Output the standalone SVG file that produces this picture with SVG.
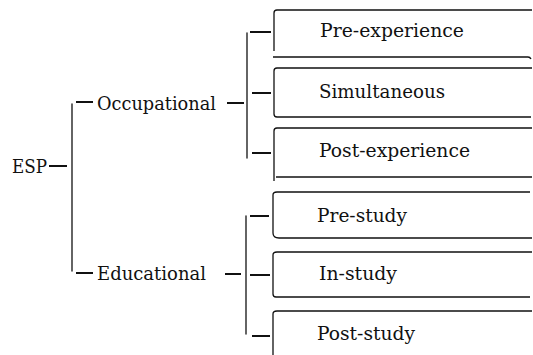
<svg xmlns="http://www.w3.org/2000/svg" width="533" height="355" viewBox="0 0 533 355">
<style>
  text { font-family: "DejaVu Serif", "Liberation Serif", serif; font-size: 18.5px; fill: #111; }
  .ln { stroke: #111; stroke-width: 1.3; fill: none; stroke-linecap: round; }
  .ds { stroke: #111; stroke-width: 2; fill: none; }
  .bx { stroke: #111; stroke-width: 1.3; fill: none; }
</style>
<rect width="533" height="355" fill="#fff"/>
<g id="connectors">
  <line class="ds" x1="49" y1="166" x2="67" y2="166"/>
  <path class="ln" d="M72,104 V271"/>
  <line class="ds" x1="76" y1="102" x2="93" y2="102"/>
  <line class="ds" x1="76" y1="273" x2="93" y2="273"/>
  <line class="ds" x1="227" y1="103" x2="244" y2="103"/>
  <path class="ln" d="M247,33 V158"/>
  <line class="ds" x1="250" y1="32" x2="271" y2="32" stroke-width="2.5"/>
  <line class="ds" x1="252" y1="93" x2="271" y2="93"/>
  <line class="ds" x1="252" y1="153" x2="271" y2="153"/>
  <line class="ds" x1="225" y1="274" x2="241" y2="274"/>
  <path class="ln" d="M246,216 V334"/>
  <line class="ds" x1="250" y1="216" x2="269" y2="216"/>
  <line class="ds" x1="250" y1="275" x2="270" y2="275"/>
  <line class="ds" x1="252" y1="336" x2="270" y2="336" stroke-width="2.5"/>
</g>
<g id="esp"><text x="12" y="173" font-size="20" textLength="35" lengthAdjust="spacingAndGlyphs">ESP</text></g>
<g id="occupational"><text x="97" y="110" textLength="119" lengthAdjust="spacingAndGlyphs">Occupational</text></g>
<g id="educational"><text x="97" y="280" textLength="109" lengthAdjust="spacingAndGlyphs">Educational</text></g>
<g id="pre-experience">
  <path class="bx" d="M532,10 H277 Q274,10 274,13 V51"/>
  <path class="bx" d="M273,57 H528 Q530,57 531,59"/>
  <text x="320" y="37" textLength="144" lengthAdjust="spacingAndGlyphs">Pre-experience</text>
</g>
<g id="simultaneous">
  <path class="bx" d="M532,68 H277 Q274,68 274,71 V114 Q274,117 277,117 H531"/>
  <text x="319" y="98" textLength="126" lengthAdjust="spacingAndGlyphs">Simultaneous</text>
</g>
<g id="post-experience">
  <path class="bx" d="M532,128 H277 Q274,128 274,131 V181"/>
  <path class="bx" d="M276,177 H532"/>
  <text x="319" y="157" textLength="151" lengthAdjust="spacingAndGlyphs">Post-experience</text>
</g>
<g id="pre-study">
  <path class="bx" d="M530,192 H277 Q273,192 273,195 V233 Q273,238 279,238 H532"/>
  <text x="317" y="222" textLength="90" lengthAdjust="spacingAndGlyphs">Pre-study</text>
</g>
<g id="in-study">
  <path class="bx" d="M532,252 H277 Q273,252 273,255 V294 Q273,297 276,297 H530"/>
  <text x="319" y="280" textLength="78" lengthAdjust="spacingAndGlyphs">In-study</text>
</g>
<g id="post-study">
  <path class="bx" d="M532,311 H277 Q273,311 273,314 V355"/>
  <text x="317" y="340" textLength="98" lengthAdjust="spacingAndGlyphs">Post-study</text>
</g>
</svg>
